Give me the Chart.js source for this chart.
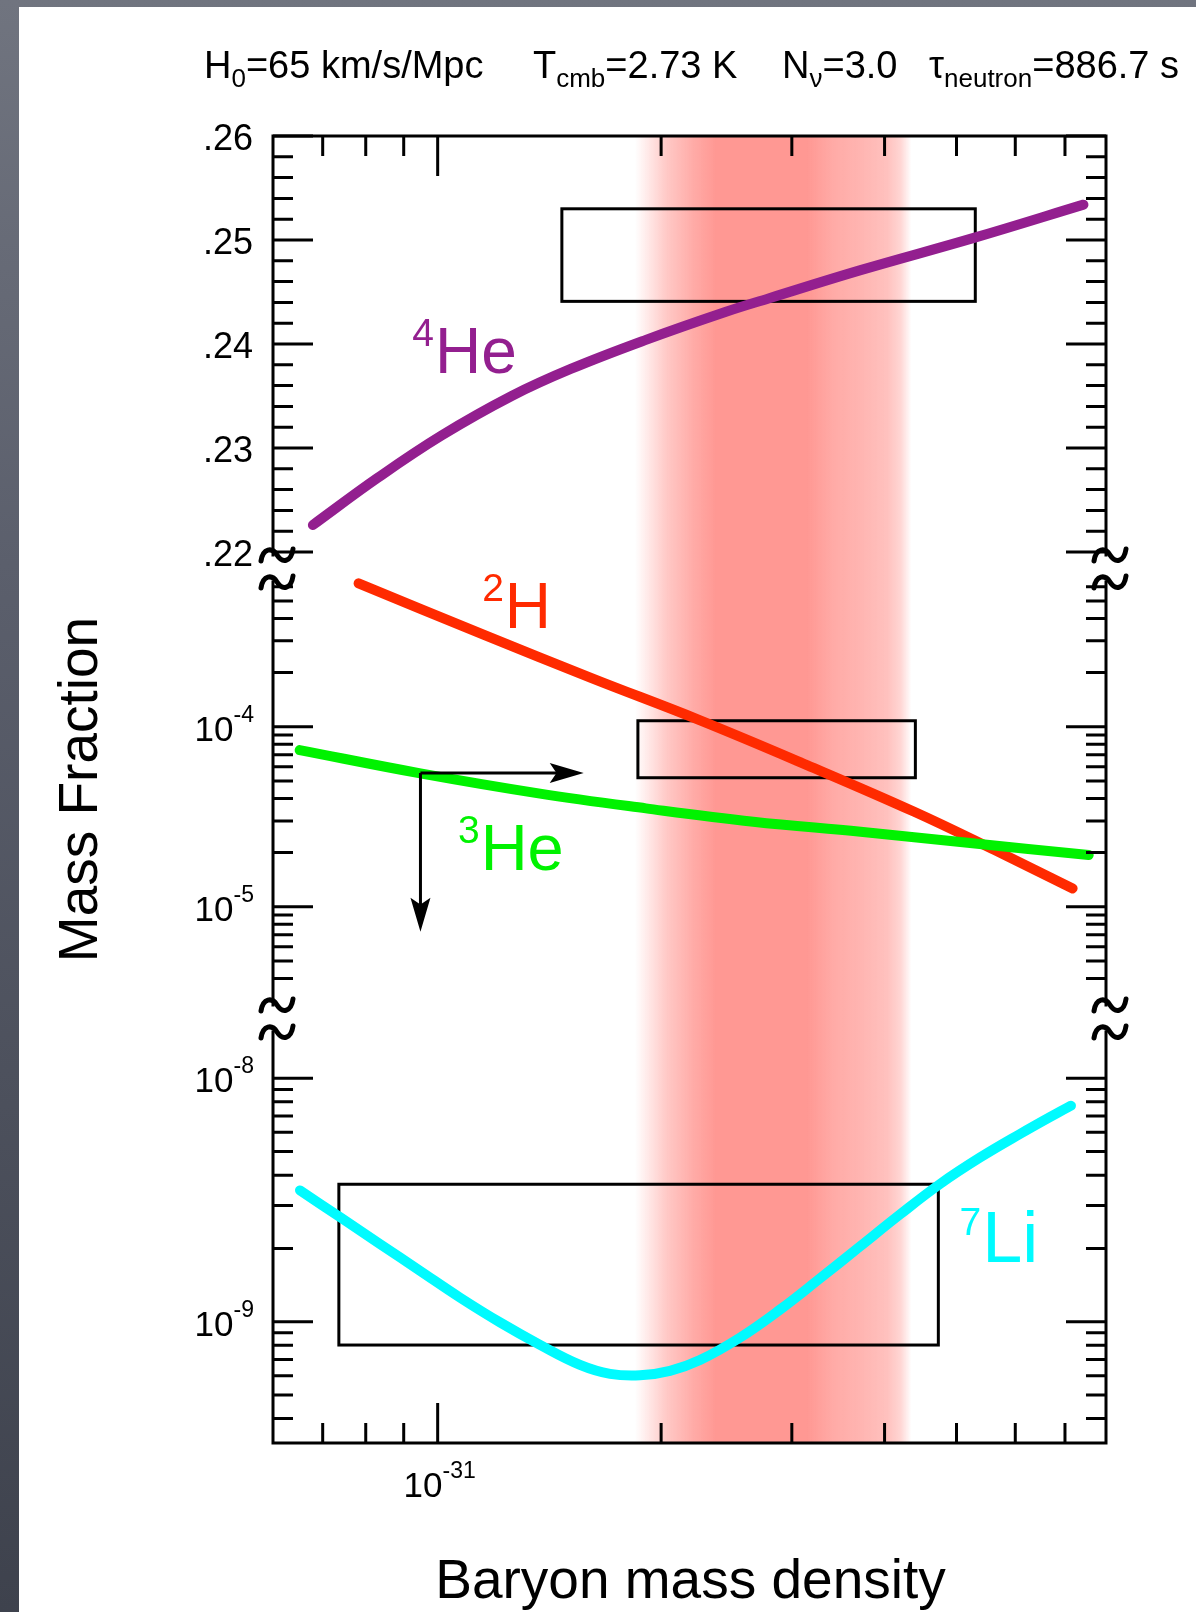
<!DOCTYPE html>
<html>
<head>
<meta charset="utf-8">
<title>Mass Fraction vs Baryon mass density</title>
<script src="https://cdn.jsdelivr.net/npm/chart.js@4.4.1/dist/chart.umd.min.js"></script>
<style>
  html, body { margin: 0; padding: 0; }
  body {
    width: 1196px; height: 1612px; overflow: hidden; position: relative;
    background: linear-gradient(to bottom, #70747f 0%, #5b5f6c 35%, #3e424d 100%);
  }
  #wrap { position: absolute; left: 19px; top: 7px; width: 1177px; height: 1605px; background: #fff; }
</style>
</head>
<body>
<div id="wrap"><canvas id="bbn" width="1177" height="1605"></canvas></div>
<script>
// bbn.js - abundancias primordiales frente a la densidad de bariones

// Eje x: densidad de masa bariónica (escala log)
const xMin = 6e-32, xMax = 7.95e-31;
const xTicks = [7e-32, 8e-32, 9e-32, 1e-31, 2e-31, 3e-31, 4e-31, 5e-31, 6e-31, 7e-31];
const xMajor = [1e-31];
const xMajorLabels = [['10', '-31']];

// Tramo superior: 4He (lineal)
const he4Min = 0.22, he4Max = 0.26;
const he4Ticks = [0.222, 0.224, 0.226, 0.228, 0.232, 0.234, 0.236, 0.238,
                  0.242, 0.244, 0.246, 0.248, 0.252, 0.254, 0.256, 0.258];
const he4Major = [0.22, 0.23, 0.24, 0.25, 0.26];
const he4Labels = ['.22', '.23', '.24', '.25', '.26'];

// Tramo medio: 2H y 3He (log)
const midMin = 2.38e-6, midMax = 9.35e-4;
const midTicks = [6e-4, 5e-4, 4e-4, 3e-4, 2e-4,
                  9e-5, 8e-5, 7e-5, 6e-5, 5e-5, 4e-5, 3e-5, 2e-5,
                  9e-6, 8e-6, 7e-6, 6e-6, 5e-6, 4e-6];
const midMajor = [1e-4, 1e-5];
const midLabels = [['10', '-4'], ['10', '-5']];

// Tramo inferior: 7Li (log)
const liMin = 3.175e-10, liMax = 1.752e-8;
const liTicks = [9e-9, 8e-9, 7e-9, 6e-9, 5e-9, 4e-9, 3e-9, 2e-9,
                 9e-10, 8e-10, 7e-10, 6e-10, 5e-10, 4e-10];
const liMajor = [1e-8, 1e-9];
const liLabels = [['10', '-8'], ['10', '-9']];

// Curvas teóricas
const he4X = [6.79e-32, 8.29e-32, 1.012e-31, 1.258e-31, 1.511e-31, 1.908e-31, 2.446e-31, 2.797e-31, 3.713e-31, 5.276e-31, 7.413e-31];
const he4Y = [0.2226, 0.2271, 0.2312, 0.2350, 0.2376, 0.2404, 0.2431, 0.2444, 0.2471, 0.2502, 0.2534];

const h2X = [7.824e-32, 1.157e-31, 1.615e-31, 2.253e-31, 3.144e-31, 4.386e-31, 5.628e-31, 7.168e-31];
const h2Y = [6.26e-4, 3.232e-4, 1.858e-4, 1.089e-4, 6.127e-5, 3.37e-5, 2.065e-5, 1.265e-5];

const he3X = [6.517e-32, 9.478e-32, 1.367e-31, 1.908e-31, 2.662e-31, 3.713e-31, 5.176e-31, 7.535e-31];
const he3Y = [7.42e-5, 5.509e-5, 4.266e-5, 3.521e-5, 2.967e-5, 2.61e-5, 2.267e-5, 1.938e-5];

const li7X = [6.524e-32, 7.388e-32, 8.364e-32, 9.468e-32, 1.0717e-31, 1.2134e-31, 1.3735e-31, 1.555e-31,
              1.7074e-31, 1.8736e-31, 2.0558e-31, 2.2566e-31, 2.5545e-31, 2.8919e-31, 3.2735e-31,
              3.7068e-31, 4.1963e-31, 4.7502e-31, 5.3774e-31, 6.0877e-31, 6.8906e-31, 7.131e-31];
const li7Y = [3.463e-9, 2.687e-9, 2.085e-9, 1.618e-9, 1.256e-9, 9.934e-10, 8.036e-10, 6.65e-10,
              6.108e-10, 6.022e-10, 6.284e-10, 6.961e-10, 8.603e-10, 1.121e-9, 1.506e-9,
              2.038e-9, 2.759e-9, 3.679e-9, 4.722e-9, 5.903e-9, 7.297e-9, 7.716e-9];

// Cajas de observación [xMin, xMax, yMin, yMax]
const he4Box = [1.47e-31, 5.3e-31, 0.2441, 0.2530];
const h2Box = [1.861e-31, 4.401e-31, 5.21e-5, 1.08e-4];
const li7Box = [7.36e-32, 4.726e-31, 8.02e-10, 3.67e-9];

// Límite superior de 3He (esquina, punta abajo, punta derecha)
const he3Limit = [9.48e-32, 5.54e-5];
const he3LimitDown = 7.26e-6;
const he3LimitRight = 1.573e-31;

// Banda de concordancia (posición x y opacidad)
const bandX = [1.844e-31, 2.036e-31, 2.215e-31, 2.372e-31, 3.148e-31, 3.412e-31, 3.713e-31, 4.036e-31, 4.203e-31, 4.348e-31];
const bandAlpha = [0, 0.53, 0.82, 1, 1, 0.82, 0.72, 0.6, 0.4, 0];

// Etiquetas de isótopos
const isoSup = ['4', '2', '3', '7'];
const isoName = ['He', 'H', 'He', 'Li'];
const isoX = [9.245e-32, 1.148e-31, 1.065e-31, 5.048e-31];
const isoY = [0.2372, 3.535e-4, 1.6e-5, 1.764e-9];
const isoAxis = ['yHe4', 'yMid', 'yMid', 'yLi'];
const isoSize = [64, 64, 65, 72];

const titleParts = [['H', '0', '=65 km/s/Mpc'], ['T', 'cmb', '=2.73 K'], ['N', 'ν', '=3.0'], ['τ', 'neutron', '=886.7 s']];

const PURPLE = '#931f8f', RED = '#ff2a00', GREEN = '#00f200', CYAN = '#00fbff';
const isoColor = [PURPLE, RED, GREEN, CYAN];
const FONT = '"Liberation Sans", Arial, Helvetica, sans-serif';
function font(size) { return size + 'px ' + FONT; }

function pts(xs, ys) {
    return xs.map(function(x, i) { return {x: x, y: ys[i]}; });
}

function curve(label, xs, ys, axis, color) {
    return {
        label: label,
        data: pts(xs, ys),
        yAxisID: axis,
        borderColor: color,
        borderWidth: 10,
        borderCapStyle: 'round',
        borderJoinStyle: 'round',
        pointRadius: 0,
        fill: false,
        tension: 0.4
    };
}

// potencia de diez con exponente en superíndice
function drawPower(ctx, parts, x, y, align) {
    ctx.save();
    ctx.textAlign = 'left';
    ctx.font = font(35);
    const wb = ctx.measureText(parts[0]).width;
    ctx.font = font(23);
    const we = ctx.measureText(parts[1]).width;
    let x0 = x;
    if (align === 'right') x0 = x - wb - we;
    if (align === 'center') x0 = x - (wb + we) / 2;
    ctx.font = font(35);
    ctx.fillText(parts[0], x0, y);
    ctx.font = font(23);
    ctx.fillText(parts[1], x0 + wb, y - 19);
    ctx.restore();
}

function tilde(ctx, cx, cy) {
    ctx.beginPath();
    ctx.moveTo(cx - 12, cy + 6);
    ctx.bezierCurveTo(cx - 10, cy - 7, cx - 1, cy - 8, cx + 4, cy);
    ctx.bezierCurveTo(cx + 9, cy + 8, cx + 18, cy + 8, cx + 20, cy - 6);
    ctx.stroke();
}

function arrow(ctx, x0, y0, x1, y1) {
    const ang = Math.atan2(y1 - y0, x1 - x0);
    const c = Math.cos(ang), s = Math.sin(ang);
    const L = 34, W = 10;
    ctx.beginPath();
    ctx.moveTo(x0, y0);
    ctx.lineTo(x1 - L * 0.7 * c, y1 - L * 0.7 * s);
    ctx.stroke();
    ctx.beginPath();
    ctx.moveTo(x1, y1);
    ctx.lineTo(x1 - L * c - W * s, y1 - L * s + W * c);
    ctx.lineTo(x1 - L * 0.8 * c, y1 - L * 0.8 * s);
    ctx.lineTo(x1 - L * c + W * s, y1 - L * s - W * c);
    ctx.closePath();
    ctx.fill();
}

// banda y cajas por debajo de las curvas
const bandPlugin = {
    id: 'band',
    beforeDatasetsDraw(chart) {
        const ctx = chart.ctx, a = chart.chartArea, s = chart.scales;
        const x0 = s.x.getPixelForValue(bandX[0]);
        const x1 = s.x.getPixelForValue(bandX[bandX.length - 1]);
        const g = ctx.createLinearGradient(x0, 0, x1, 0);
        bandX.forEach(function(v, i) {
            const t = (s.x.getPixelForValue(v) - x0) / (x1 - x0);
            g.addColorStop(Math.min(1, Math.max(0, t)), 'rgba(255,152,147,' + bandAlpha[i] + ')');
        });
        ctx.save();
        ctx.fillStyle = g;
        ctx.fillRect(x0, a.top, x1 - x0, a.bottom - a.top);

        ctx.strokeStyle = '#000';
        ctx.lineWidth = 3;
        [[he4Box, s.yHe4], [h2Box, s.yMid], [li7Box, s.yLi]].forEach(function(b) {
            const box = b[0], ys = b[1];
            const l = s.x.getPixelForValue(box[0]), r = s.x.getPixelForValue(box[1]);
            const bt = ys.getPixelForValue(box[3]), bb = ys.getPixelForValue(box[2]);
            ctx.strokeRect(l, bt, r - l, bb - bt);
        });
        ctx.restore();
    }
};

// marco, marcas, rupturas y textos
const framePlugin = {
    id: 'frame',
    afterDatasetsDraw(chart) {
        const ctx = chart.ctx, a = chart.chartArea, s = chart.scales;
        ctx.save();
        ctx.strokeStyle = '#000';
        ctx.fillStyle = '#000';
        ctx.textBaseline = 'alphabetic';

        // flecha del límite de 3He
        ctx.lineWidth = 3;
        const ax = s.x.getPixelForValue(he3Limit[0]), ay = s.yMid.getPixelForValue(he3Limit[1]);
        arrow(ctx, ax, ay, ax, s.yMid.getPixelForValue(he3LimitDown));
        arrow(ctx, ax, ay, s.x.getPixelForValue(he3LimitRight), ay);

        // etiquetas de isótopos
        ctx.textAlign = 'left';
        isoName.forEach(function(name, i) {
            const lx = s.x.getPixelForValue(isoX[i]);
            const ly = s[isoAxis[i]].getPixelForValue(isoY[i]);
            ctx.fillStyle = isoColor[i];
            ctx.font = font(39);
            ctx.fillText(isoSup[i], lx, ly - 27);
            const w = ctx.measureText(isoSup[i]).width;
            ctx.font = font(isoSize[i]);
            ctx.fillText(name, lx + w + 1, ly);
        });
        ctx.fillStyle = '#000';

        // marco con huecos en las rupturas
        const b1 = s.yHe4.bottom, b2 = s.yMid.bottom;
        const breaks = [b1 + 3, b1 + 30, b2 - 14, b2 + 13];
        ctx.lineWidth = 3;
        ctx.lineCap = 'square';
        ctx.beginPath();
        ctx.moveTo(a.left, a.top); ctx.lineTo(a.right, a.top);
        ctx.moveTo(a.left, a.bottom); ctx.lineTo(a.right, a.bottom);
        [a.left, a.right].forEach(function(xx) {
            ctx.moveTo(xx, a.top); ctx.lineTo(xx, breaks[0]);
            ctx.moveTo(xx, breaks[1]); ctx.lineTo(xx, breaks[2]);
            ctx.moveTo(xx, breaks[3]); ctx.lineTo(xx, a.bottom);
        });
        ctx.stroke();
        ctx.lineCap = 'butt';

        // marcas hacia dentro
        function yTicks(scale, values, len) {
            ctx.beginPath();
            values.forEach(function(v) {
                const y = scale.getPixelForValue(v);
                ctx.moveTo(a.left, y); ctx.lineTo(a.left + len, y);
                ctx.moveTo(a.right, y); ctx.lineTo(a.right - len, y);
            });
            ctx.stroke();
        }
        function xTickMarks(values, len) {
            ctx.beginPath();
            values.forEach(function(v) {
                const x = s.x.getPixelForValue(v);
                ctx.moveTo(x, a.top); ctx.lineTo(x, a.top + len);
                ctx.moveTo(x, a.bottom); ctx.lineTo(x, a.bottom - len);
            });
            ctx.stroke();
        }
        ctx.lineWidth = 3;
        yTicks(s.yHe4, he4Ticks, 20);
        yTicks(s.yHe4, he4Major, 40);
        yTicks(s.yMid, midTicks, 20);
        yTicks(s.yMid, midMajor, 40);
        yTicks(s.yLi, liTicks, 20);
        yTicks(s.yLi, liMajor, 40);
        xTickMarks(xTicks.filter(function(v) { return xMajor.indexOf(v) < 0; }), 20);
        xTickMarks(xMajor, 40);

        // símbolos de ruptura
        ctx.lineWidth = 5;
        ctx.lineCap = 'round';
        [a.left, a.right].forEach(function(xx) {
            breaks.forEach(function(by) { tilde(ctx, xx, by); });
        });

        // rótulos de los ejes
        ctx.textAlign = 'right';
        ctx.font = font(36);
        he4Major.forEach(function(v, i) {
            ctx.fillText(he4Labels[i], a.left - 20, s.yHe4.getPixelForValue(v) + 14);
        });
        midMajor.forEach(function(v, i) {
            drawPower(ctx, midLabels[i], a.left - 19, s.yMid.getPixelForValue(v) + 14, 'right');
        });
        liMajor.forEach(function(v, i) {
            drawPower(ctx, liLabels[i], a.left - 19, s.yLi.getPixelForValue(v) + 14, 'right');
        });
        xMajor.forEach(function(v, i) {
            drawPower(ctx, xMajorLabels[i], s.x.getPixelForValue(v) + 2, a.bottom + 54, 'center');
        });

        // título de parámetros
        ctx.textAlign = 'left';
        const starts = [a.left - 69, a.left + 260, a.left + 509, a.left + 656];
        titleParts.forEach(function(p, i) {
            let x = starts[i];
            const y = a.top - 58;
            ctx.font = font(38);
            ctx.fillText(p[0], x, y);
            x += ctx.measureText(p[0]).width;
            ctx.font = font(26);
            ctx.fillText(p[1], x, y + 9);
            x += ctx.measureText(p[1]).width;
            ctx.font = font(38);
            ctx.fillText(p[2], x, y);
        });

        // títulos de los ejes
        ctx.font = font(55);
        ctx.textAlign = 'center';
        ctx.fillText('Baryon mass density', (a.left + a.right) / 2 + 1, a.bottom + 155);
        ctx.save();
        ctx.translate(a.left - 176, (a.top + a.bottom) / 2);
        ctx.rotate(-Math.PI / 2);
        ctx.font = font(55);
        ctx.fillText('Mass Fraction', 0, 0);
        ctx.restore();

        ctx.restore();
    }
};

const ctx = document.getElementById('bbn').getContext('2d');
const bbnChart = new Chart(ctx, {
    type: 'line',
    data: {
        datasets: [
            curve('3He', he3X, he3Y, 'yMid', GREEN),
            curve('2H', h2X, h2Y, 'yMid', RED),
            curve('4He', he4X, he4Y, 'yHe4', PURPLE),
            curve('7Li', li7X, li7Y, 'yLi', CYAN)
        ]
    },
    options: {
        responsive: false,
        animation: false,
        events: [],
        layout: { padding: { left: 254, top: 129, right: 90, bottom: 169 } },
        plugins: { legend: { display: false }, tooltip: { enabled: false } },
        scales: {
            x: { type: 'logarithmic', min: xMin, max: xMax, display: false },
            yHe4: { type: 'linear', min: he4Min, max: he4Max, display: false,
                    position: 'left', stack: 'mass', stackWeight: 416, weight: 3 },
            yMid: { type: 'logarithmic', min: midMin, max: midMax, display: false,
                    position: 'left', stack: 'mass', stackWeight: 467, weight: 2 },
            yLi: { type: 'logarithmic', min: liMin, max: liMax, display: false,
                   position: 'left', stack: 'mass', stackWeight: 424, weight: 1 }
        }
    },
    plugins: [bandPlugin, framePlugin]
});
</script>
</body>
</html>
